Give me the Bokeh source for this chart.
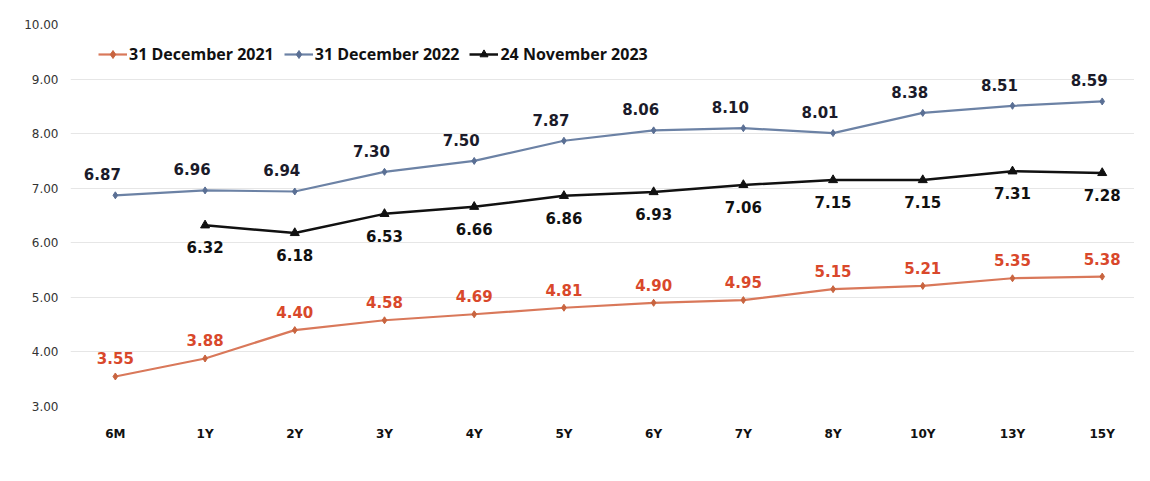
from bokeh.plotting import figure
from bokeh.models import (ColumnDataSource, LabelSet, Legend, LegendItem, Range1d, FixedTicker,
                          CustomJSTickFormatter)
from bokeh.core.properties import value
from bokeh.embed import file_html
from bokeh.resources import INLINE

tenors = ["6M", "1Y", "2Y", "3Y", "4Y", "5Y", "6Y", "7Y", "8Y", "10Y", "13Y", "15Y"]
dec2021 = [3.55, 3.88, 4.40, 4.58, 4.69, 4.81, 4.90, 4.95, 5.15, 5.21, 5.35, 5.38]
dec2022 = [6.87, 6.96, 6.94, 7.30, 7.50, 7.87, 8.06, 8.10, 8.01, 8.38, 8.51, 8.59]
nov2023_tenors = ["1Y", "2Y", "3Y", "4Y", "5Y", "6Y", "7Y", "8Y", "10Y", "13Y", "15Y"]
nov2023 = [6.32, 6.18, 6.53, 6.66, 6.86, 6.93, 7.06, 7.15, 7.15, 7.31, 7.28]
y_ticks = [3, 4, 5, 6, 7, 8, 9, 10]

RED_LINE = "#d9785a"
RED_TEXT = "#d9482b"
BLUE_LINE = "#6c82a5"
BLACK = "#111111"

pos = {t: i for i, t in enumerate(tenors)}

p = figure(width=1134, height=465, x_range=Range1d(-0.5, len(tenors) - 0.64), y_range=Range1d(3, 10),
           output_backend="svg", toolbar_location=None,
           min_border_left=70, min_border_right=0, min_border_top=24, min_border_bottom=59)
p.outline_line_color = None
p.background_fill_color = "white"
p.border_fill_color = "white"

s21 = ColumnDataSource(dict(x=[pos[t] for t in tenors], y=dec2021, t=[f"{v:.2f}" for v in dec2021]))
s22 = ColumnDataSource(dict(x=[pos[t] for t in tenors], y=dec2022, t=[f"{v:.2f}" for v in dec2022]))
s23 = ColumnDataSource(dict(x=[pos[t] for t in nov2023_tenors], y=nov2023, t=[f"{v:.2f}" for v in nov2023]))

l21 = p.line("x", "y", source=s21, line_color=RED_LINE, line_width=2.2)
m21 = p.scatter("x", "y", source=s21, marker="diamond", size=7, color="#c8643f")
l22 = p.line("x", "y", source=s22, line_color=BLUE_LINE, line_width=2.2)
m22 = p.scatter("x", "y", source=s22, marker="diamond", size=7, color="#5a6f94")
l23 = p.line("x", "y", source=s23, line_color=BLACK, line_width=2.5)
m23 = p.scatter("x", "y", source=s23, marker="triangle", size=9, color=BLACK)

font = "DejaVu Sans"
common = dict(text_align="center", text_baseline="middle", text_font=value(font),
              text_font_style="bold", text_font_size="15px")
p.add_layout(LabelSet(x="x", y="y", text="t", source=s21, y_offset=18, text_color=RED_TEXT, **common))
p.add_layout(LabelSet(x="x", y="y", text="t", source=s22, x_offset=-13, y_offset=21,
                      text_color="#1b1b2a", **common))
p.add_layout(LabelSet(x="x", y="y", text="t", source=s23, y_offset=-22, text_color=BLACK, **common))

legend = Legend(items=[
    LegendItem(label="31 December 2021", renderers=[l21, m21]),
    LegendItem(label="31 December 2022", renderers=[l22, m22]),
    LegendItem(label="24 November 2023", renderers=[l23, m23]),
], orientation="horizontal", location=(28, 341))
legend.border_line_color = None
legend.background_fill_alpha = 0
legend.padding = 0
legend.margin = 0
legend.spacing = 10
legend.glyph_width = 29
legend.glyph_height = 20
legend.label_standoff = 2
legend.label_text_font = "Open Sans"
legend.label_text_font_style = "bold"
legend.label_text_font_size = "16px"
legend.label_text_color = "#111111"
p.add_layout(legend)

p.xgrid.grid_line_color = None
p.ygrid.grid_line_color = "#e6e6e6"
p.ygrid.grid_line_width = 1

p.xaxis.ticker = FixedTicker(ticks=list(range(len(tenors))))
p.xaxis.major_label_overrides = {i: t for i, t in enumerate(tenors)}
p.yaxis.ticker = FixedTicker(ticks=y_ticks)
p.yaxis.formatter = CustomJSTickFormatter(code="return tick.toFixed(2);")
for ax in (p.xaxis, p.yaxis):
    ax.axis_line_color = None
    ax.major_tick_line_color = None
    ax.minor_tick_line_color = None
    ax.major_tick_in = 0
    ax.major_tick_out = 0
p.yaxis.major_label_standoff = 12
p.yaxis.major_label_text_font = font
p.yaxis.major_label_text_font_size = "12px"
p.yaxis.major_label_text_color = "#333333"
p.xaxis.major_label_standoff = 20
p.xaxis.major_label_text_font = font
p.xaxis.major_label_text_font_style = "bold"
p.xaxis.major_label_text_font_size = "12px"
p.xaxis.major_label_text_color = "#111111"

open("out.html", "w").write(file_html(p, INLINE))
